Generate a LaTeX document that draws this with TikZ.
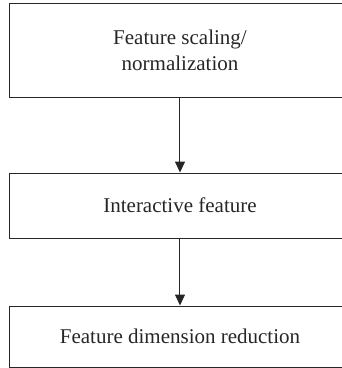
\documentclass[tikz,border=0pt]{standalone}
\usepackage{fontspec}
\setmainfont{Liberation Serif}
\usetikzlibrary{arrows.meta}
\begin{document}
\begin{tikzpicture}[x=1pt,y=-1pt,
  stage/.style={draw=black!85, line width=1pt, minimum width=340pt,
    inner sep=0pt, align=center, font=\fontsize{21}{26}\selectfont, text=black!85},
  flow/.style={draw=black!85, line width=1pt, -{Triangle[length=11pt,width=10pt]}}]
  \useasboundingbox (0,0) rectangle (342,368);
  \node[stage, minimum height=94pt] (scale) at (180,50) {Feature scaling/\\normalization};
  \node[stage, minimum height=65pt] (inter) at (180,205.5) {Interactive feature};
  \node[stage, minimum height=61.5pt] (dimred) at (180,336.75) {Feature dimension reduction};
  \draw[flow] (scale.south) -- (inter.north);
  \draw[flow] (inter.south) -- (dimred.north);
\end{tikzpicture}
\end{document}
